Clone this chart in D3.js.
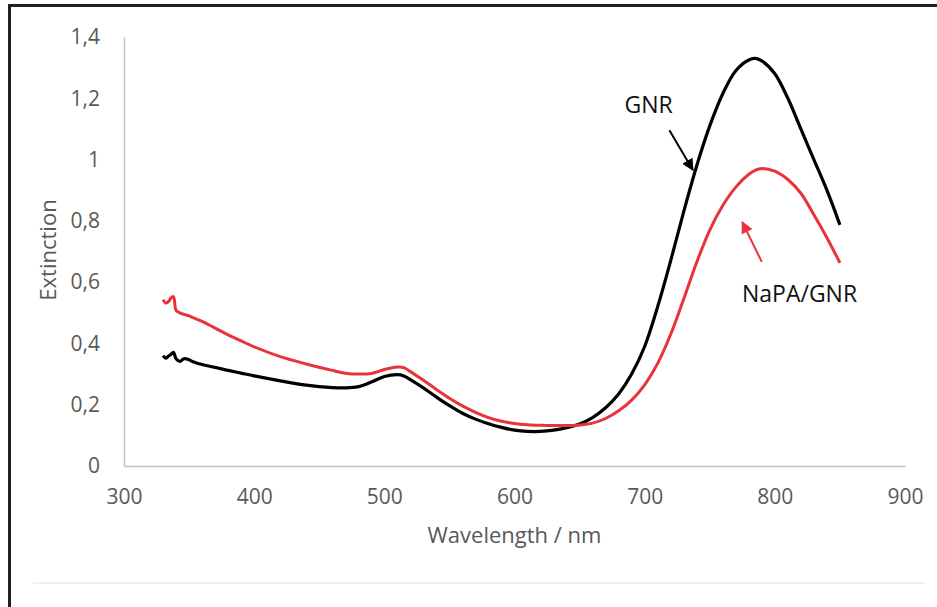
<!DOCTYPE html>
<html>
<head>
<meta charset="utf-8">
<script src="https://cdn.jsdelivr.net/npm/d3@7/dist/d3.min.js"></script>
<style>
  body { margin: 0; background: #fff; }
  text { font-family: "Open Sans", sans-serif; }
</style>
</head>
<body>
<div id="chart"></div>
<script>
// spectra
const wavelengths = [330, 332, 334, 336, 338, 340, 343, 346, 350, 353, 360, 370, 380, 390, 400, 420, 440, 460, 470, 480, 490, 500, 510, 515, 520, 530, 540, 550, 560, 570, 580, 590, 600, 610, 620, 630, 640, 650, 660, 670, 680, 690, 700, 710, 720, 730, 740, 750, 760, 770, 780, 785, 790, 800, 810, 820, 830, 840, 850];
const gnr = [0.360, 0.352, 0.358, 0.364, 0.371, 0.350, 0.341, 0.350, 0.347, 0.340, 0.331, 0.322, 0.312, 0.303, 0.294, 0.278, 0.264, 0.256, 0.255, 0.259, 0.274, 0.292, 0.298, 0.294, 0.282, 0.255, 0.225, 0.197, 0.172, 0.153, 0.138, 0.126, 0.117, 0.113, 0.113, 0.117, 0.125, 0.137, 0.158, 0.190, 0.235, 0.300, 0.390, 0.520, 0.670, 0.830, 0.980, 1.110, 1.215, 1.290, 1.325, 1.330, 1.322, 1.280, 1.200, 1.100, 1.000, 0.900, 0.787];
const napaGnr = [0.543, 0.532, 0.536, 0.548, 0.553, 0.508, 0.500, 0.495, 0.490, 0.484, 0.472, 0.450, 0.428, 0.408, 0.389, 0.357, 0.333, 0.312, 0.303, 0.300, 0.302, 0.315, 0.323, 0.321, 0.308, 0.280, 0.250, 0.221, 0.196, 0.175, 0.158, 0.146, 0.139, 0.135, 0.133, 0.132, 0.132, 0.134, 0.140, 0.155, 0.180, 0.215, 0.265, 0.335, 0.430, 0.545, 0.665, 0.770, 0.850, 0.910, 0.952, 0.965, 0.971, 0.962, 0.935, 0.890, 0.820, 0.745, 0.663];
const xTicks = [300, 400, 500, 600, 700, 800, 900];
const yTicks = [0, 0.2, 0.4, 0.6, 0.8, 1, 1.2, 1.4];

const svgWidth = 937, svgHeight = 607;
const margin = { top: 37, right: 32, bottom: 141, left: 124 };
const width = svgWidth - margin.left - margin.right;
const height = svgHeight - margin.top - margin.bottom;

const svg = d3.select("#chart").append("svg")
  .attr("width", svgWidth).attr("height", svgHeight);

// frame (left + top edges only) and faint bottom rule
svg.append("line").attr("x1", 9.5).attr("x2", 9.5).attr("y1", 4).attr("y2", svgHeight)
  .attr("stroke", "#231f20").attr("stroke-width", 3);
svg.append("line").attr("x1", 8).attr("x2", svgWidth).attr("y1", 5.5).attr("y2", 5.5)
  .attr("stroke", "#231f20").attr("stroke-width", 3);
svg.append("line").attr("x1", 33).attr("x2", 925).attr("y1", 583).attr("y2", 583)
  .attr("stroke", "#f0f0f0").attr("stroke-width", 2);

const g = svg.append("g").attr("transform", "translate(" + margin.left + "," + margin.top + ")");

const x = d3.scaleLinear().domain([300, 900]).range([0, width]);
const y = d3.scaleLinear().domain([0, 1.4]).range([height, 0]);

const fmt = d => String(d).replace(".", ",");

const xAxis = g.append("g").attr("transform", "translate(0," + height + ")")
  .call(d3.axisBottom(x).tickValues(xTicks).tickSize(0).tickPadding(23).tickFormat(d => d));
const yAxis = g.append("g")
  .call(d3.axisLeft(y).tickValues(yTicks).tickSize(0).tickPadding(24).tickFormat(fmt));
[xAxis, yAxis].forEach(a => {
  a.select(".domain").attr("stroke", "#bfbfbf").attr("stroke-width", 1.5);
  a.selectAll("text").attr("fill", "#595959").style("font-size", "21px")
    .style("font-family", "'Open Sans', sans-serif");
});

// axis titles
g.append("text").attr("x", width / 2).attr("y", height + 77)
  .attr("text-anchor", "middle").attr("fill", "#595959").style("font-size", "22px")
  .text("Wavelength / nm");
g.append("text").attr("transform", "translate(" + (47 - margin.left) + "," + (250 - margin.top) + ") rotate(-90)")
  .attr("text-anchor", "middle").attr("dominant-baseline", "central")
  .attr("fill", "#595959").style("font-size", "22px").text("Extinction");

const data1 = wavelengths.map((w, i) => ({ w: w, v: gnr[i] }));
const data2 = wavelengths.map((w, i) => ({ w: w, v: napaGnr[i] }));
const line = d3.line().x(d => x(d.w)).y(d => y(d.v)).curve(d3.curveCatmullRom.alpha(0.5));

g.append("path").datum(data1).attr("fill", "none").attr("stroke", "#000")
  .attr("stroke-width", 3.2).attr("stroke-linejoin", "round").attr("d", line);
g.append("path").datum(data2).attr("fill", "none").attr("stroke", "#e8333a")
  .attr("stroke-width", 3).attr("stroke-linejoin", "round").attr("d", line);

// arrows + labels
const defs = svg.append("defs");
[["arrBlack", "#000"], ["arrRed", "#e8333a"]].forEach(([id, col]) => {
  defs.append("marker").attr("id", id).attr("viewBox", "0 0 10 10")
    .attr("refX", 9).attr("refY", 5).attr("markerWidth", 6).attr("markerHeight", 6)
    .attr("markerUnits", "strokeWidth").attr("orient", "auto")
    .append("path").attr("d", "M0,0 L10,5 L0,10 z").attr("fill", col);
});

const notes = [
  { text: "GNR", tx: 703, ty: 1.18, x1: 719, y1: 1.096, x2: 737, y2: 0.966, col: "#000", m: "arrBlack", tc: "#111" },
  { text: "NaPA/GNR", tx: 819, ty: 0.565, x1: 790, y1: 0.666, x2: 775, y2: 0.796, col: "#e8333a", m: "arrRed", tc: "#111" }
];
notes.forEach(n => {
  g.append("line").attr("x1", x(n.x1)).attr("y1", y(n.y1)).attr("x2", x(n.x2)).attr("y2", y(n.y2))
    .attr("stroke", n.col).attr("stroke-width", 2).attr("marker-end", "url(#" + n.m + ")");
  g.append("text").attr("x", x(n.tx)).attr("y", y(n.ty)).attr("text-anchor", "middle")
    .attr("dominant-baseline", "central").attr("fill", n.tc).style("font-size", "23px").text(n.text);
});
</script>
</body>
</html>
